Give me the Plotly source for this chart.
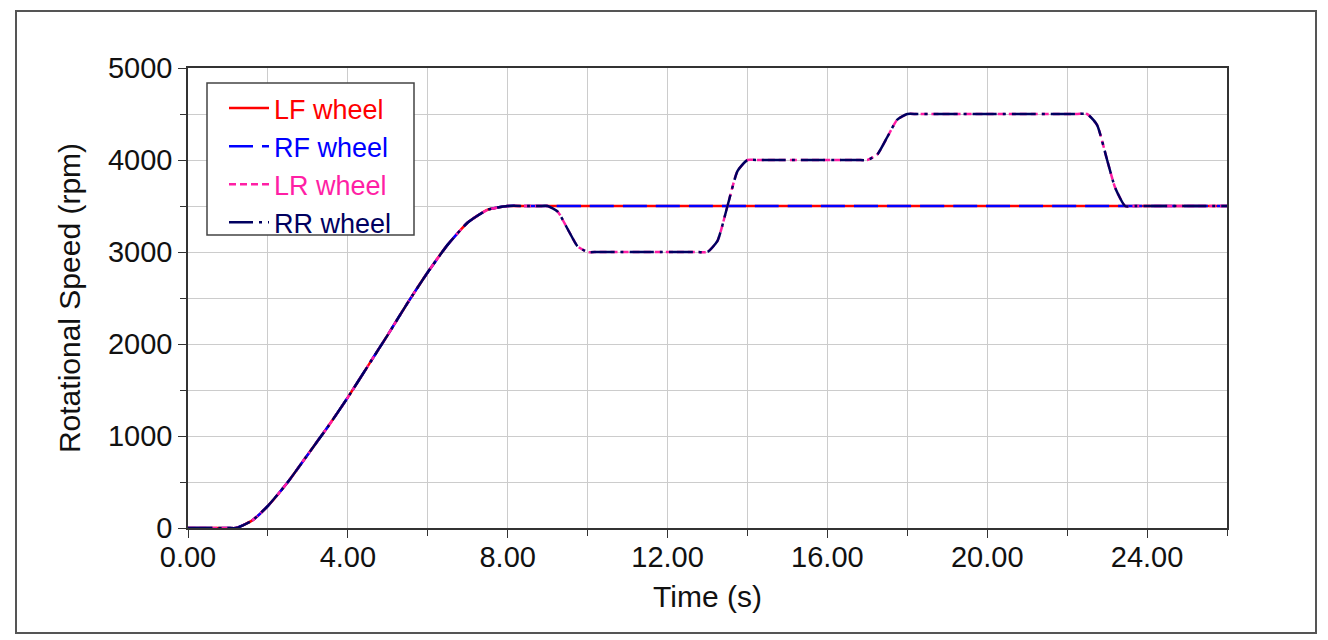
import plotly.graph_objects as go

# Front wheels (LF, RF): ramp up then hold
front_t = [0.0, 1.0, 1.2, 1.6, 2.0, 2.5, 3.0, 3.5, 4.0, 4.5, 5.0, 5.5, 6.0, 6.5, 7.0, 7.5, 8.0, 8.5, 25.5, 26.0]
front_v = [0, 0, 0, 80, 240, 500, 800, 1100, 1420, 1760, 2100, 2450, 2780, 3080, 3320, 3460, 3500, 3500, 3500, 3500]

# Rear wheels (LR, RR): same ramp, then speed changes
rear_t = [0.0, 1.0, 1.2, 1.6, 2.0, 2.5, 3.0, 3.5, 4.0, 4.5, 5.0, 5.5, 6.0, 6.5, 7.0, 7.5, 8.0, 8.5,
          8.8, 9.0, 9.25, 9.5, 9.75, 10.0, 10.25,
          12.75, 13.0, 13.25, 13.5, 13.75, 14.0, 14.25,
          16.75, 17.0, 17.25, 17.5, 17.75, 18.0, 18.25,
          22.25, 22.5, 22.75, 23.0, 23.2, 23.45, 23.7, 26.0]
rear_v = [0, 0, 0, 80, 240, 500, 800, 1100, 1420, 1760, 2100, 2450, 2780, 3080, 3320, 3460, 3500, 3500,
          3500, 3500, 3440, 3250, 3060, 3000, 3000,
          3000, 3000, 3120, 3500, 3880, 4000, 4000,
          4000, 4000, 4060, 4250, 4440, 4500, 4500,
          4500, 4500, 4380, 4000, 3700, 3500, 3500, 3500]

series = [
    ("LF wheel", front_t, front_v, "#ff0000", "solid"),
    ("RF wheel", front_t, front_v, "#0000ff", "24px,9px"),
    ("LR wheel", rear_t, rear_v, "#ff1fa5", "7px,4px"),
    ("RR wheel", rear_t, rear_v, "#000060", "24px,6px,3px,6px"),
]

fig = go.Figure()
for name, t, v, color, dash in series:
    fig.add_trace(go.Scatter(
        x=t, y=v, mode="lines",
        name=f"<span style='color:{color}'>{name}</span>",
        line=dict(color=color, width=2.5, dash=dash, shape="spline", smoothing=0.5),
    ))

font = "Liberation Sans, Arial, sans-serif"
W, H = 1328, 640
L, R, T, B = 188, 101, 68, 112
pw, ph = W - L - R, H - T - B

def px_x(p):
    return (p - L) / pw

def px_y(p):
    return (H - B - p) / ph

fig.update_layout(
    width=W, height=H,
    margin=dict(l=L, r=R, t=T, b=B, autoexpand=False),
    paper_bgcolor="white", plot_bgcolor="white",
    font=dict(family=font, size=29, color="#111111"),
    showlegend=True,
    legend=dict(
        x=px_x(224), y=px_y(84), xanchor="left", yanchor="top",
        bgcolor="rgba(0,0,0,0)", borderwidth=0,
        font=dict(family=font, size=27),
        tracegroupgap=0, itemwidth=40,
    ),
    xaxis=dict(
        range=[0, 26], tickvals=[0, 4, 8, 12, 16, 20, 24],
        ticktext=["0.00", "4.00", "8.00", "12.00", "16.00", "20.00", "24.00"],
        ticks="outside", ticklen=8, tickcolor="#333333",
        ticklabelstandoff=-6,
        showgrid=True, gridcolor="#cccccc", gridwidth=1,
        minor=dict(dtick=2, tick0=0, ticks="outside", ticklen=6, showgrid=True, gridcolor="#cccccc", tickcolor="#333333"),
        showline=True, linecolor="#333333", linewidth=1.5, mirror=True,
        zeroline=False,
        title=dict(text="Time (s)", font=dict(family=font, size=30), standoff=14),
    ),
    yaxis=dict(
        range=[0, 5000], dtick=1000, tick0=0,
        ticks="outside", ticklen=8, tickcolor="#333333",
        showgrid=True, gridcolor="#cccccc", gridwidth=1,
        minor=dict(dtick=500, ticks="outside", ticklen=6, showgrid=True, gridcolor="#cccccc", tickcolor="#333333"),
        showline=True, linecolor="#333333", linewidth=1.5, mirror=True,
        zeroline=False,
        title=dict(text="Rotational Speed (rpm)", font=dict(family=font, size=30), standoff=18),
    ),
    shapes=[
        dict(
            type="rect", xref="paper", yref="paper",
            x0=px_x(16), x1=px_x(1316), y0=px_y(633), y1=px_y(11),
            line=dict(color="#555555", width=2), fillcolor="rgba(0,0,0,0)", layer="below",
        ),
        dict(
            type="rect", xref="paper", yref="paper",
            x0=px_x(207), x1=px_x(414), y0=px_y(235), y1=px_y(83),
            line=dict(color="#444444", width=1.5), fillcolor="white", layer="above",
        ),
    ],
)

fig.write_html(
    "out.html",
    config={"displayModeBar": False},
    post_script="document.body.style.margin='0';document.body.style.overflow='hidden';",
)
